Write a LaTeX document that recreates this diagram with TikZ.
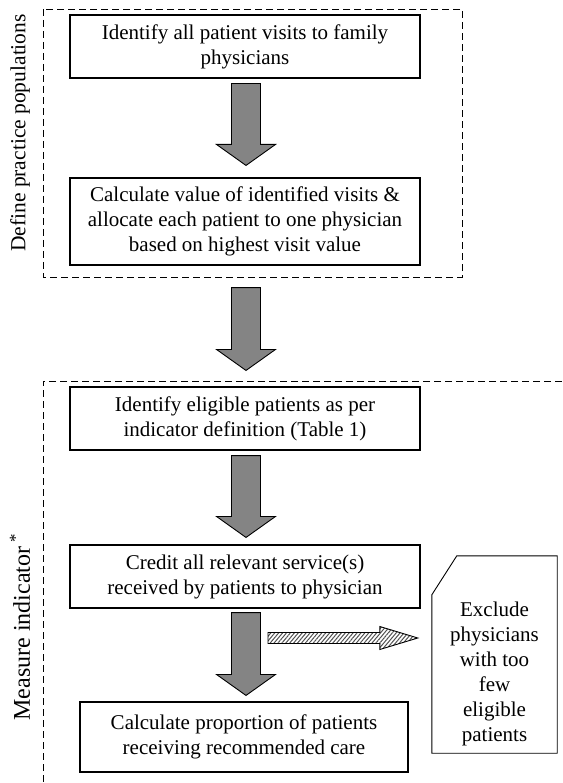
\documentclass[tikz,border=0pt]{standalone}
\usepackage{fontspec}
\setmainfont{Liberation Serif}
\usepackage{tikz}
\usetikzlibrary{
  positioning,
  calc,
  patterns.meta
}
\definecolor{ArrowGray}{HTML}{848484}
\definecolor{HatchGray}{HTML}{505050}
\tikzset{
  % Process step box
  stepbox/.style={
    rectangle, draw=black, line width=1.1pt, fill=white,
    minimum width=#1, minimum height=63pt, inner sep=0pt,
    align=center, font=\fontsize{21}{25}\selectfont
  },
  stepbox/.default=350pt,
  % Grey block arrow
  blockarr/.style={
    draw=black, line width=0.9pt, fill=ArrowGray
  },
  % Hatched block arrow
  hatcharr/.style={
    draw=black, line width=0.9pt,
    pattern={Lines[angle=50, distance=3pt, line width=1pt]},
    pattern color=HatchGray
  },
  % Dashed group outline
  grp/.style={
    dash pattern=on 7pt off 4pt, line width=0.9pt
  },
  % Side label
  sidelbl/.style={rotate=90, font=\fontsize{#1}{25}\selectfont},
  sidelbl/.default=21.5
}

\begin{document}
\begin{tikzpicture}[x=1pt, y=-1pt]

  \useasboundingbox (0,0) rectangle (562,783);

  % Group outlines
  \draw[grp] (43,9) rectangle (462,277);
  \draw[grp] (562,381) -- (43,381) -- (43,783);

  % Side labels
  \node[sidelbl] (lpop) at (20,133) {Define practice populations};
  \node[sidelbl=24] (lind) at (20,627) {Measure indicator\,\textsuperscript{*}};

  % Steps
  \node[stepbox] (b1) at (245,46.5) {Identify all patient visits to family\\physicians};
  \node[stepbox, minimum height=87pt] (b2) at (245,221.5)
    {Calculate value of identified visits \&\\allocate each patient to one physician\\based on highest visit value};
  \node[stepbox] (b3) at (245,418.5) {Identify eligible patients as per\\indicator definition (Table 1)};
  \node[stepbox] (b4) at (245,576.5) {Credit all relevant service(s)\\received by patients to physician};
  \node[stepbox=328pt, minimum height=70pt] (b5) at (244,737)
    {Calculate proportion of patients\\receiving recommended care};

  % Exclusion note (cut corner)
  \node[minimum width=125pt, minimum height=197pt, inner sep=0pt] (note) at (494.5,654.5) {};
  \draw[line width=0.9pt] ($(note.north west)+(25,0)$) -- (note.north east)
    -- (note.south east) -- (note.south west) -- ($(note.north west)+(0,39)$) -- cycle;
  \node[align=center, font=\fontsize{21}{25}\selectfont] (notetxt) at ($(note.center)+(0,19)$)
    {Exclude\\physicians\\with too\\few\\eligible\\patients};

  % Block arrows between steps
  \foreach \from/\to/\ds/\de in {b1/b2/5/12, b2/b3/22/16, b3/b4/5/7, b4/b5/4/6}{
    \draw[blockarr] let \p1=($(\from.south)+(1,\ds)$), \p2=($(\to.north)+(0,-\de)$) in
      (\x1-14.5pt,\y1) -- (\x1+14.5pt,\y1) -- (\x1+14.5pt,\y2+21pt) -- (\x1+29.5pt,\y2+21pt)
      -- (\x1,\y2) -- (\x1-29.5pt,\y2+21pt) -- (\x1-14.5pt,\y2+21pt) -- cycle;
  }

  % Hatched arrow to exclusion note
  \coordinate (h0) at (268,638);
  \draw[hatcharr] let \p1=(h0), \p2=($(note.west)+(-14,0)$) in
    (\x1,\y1+5.5pt) -- (\x2-38pt,\y1+5.5pt) -- (\x2-38pt,\y1+11.5pt) -- (\x2,\y1)
    -- (\x2-38pt,\y1-11.5pt) -- (\x2-38pt,\y1-5.5pt) -- (\x1,\y1-5.5pt) -- cycle;

\end{tikzpicture}
\end{document}
